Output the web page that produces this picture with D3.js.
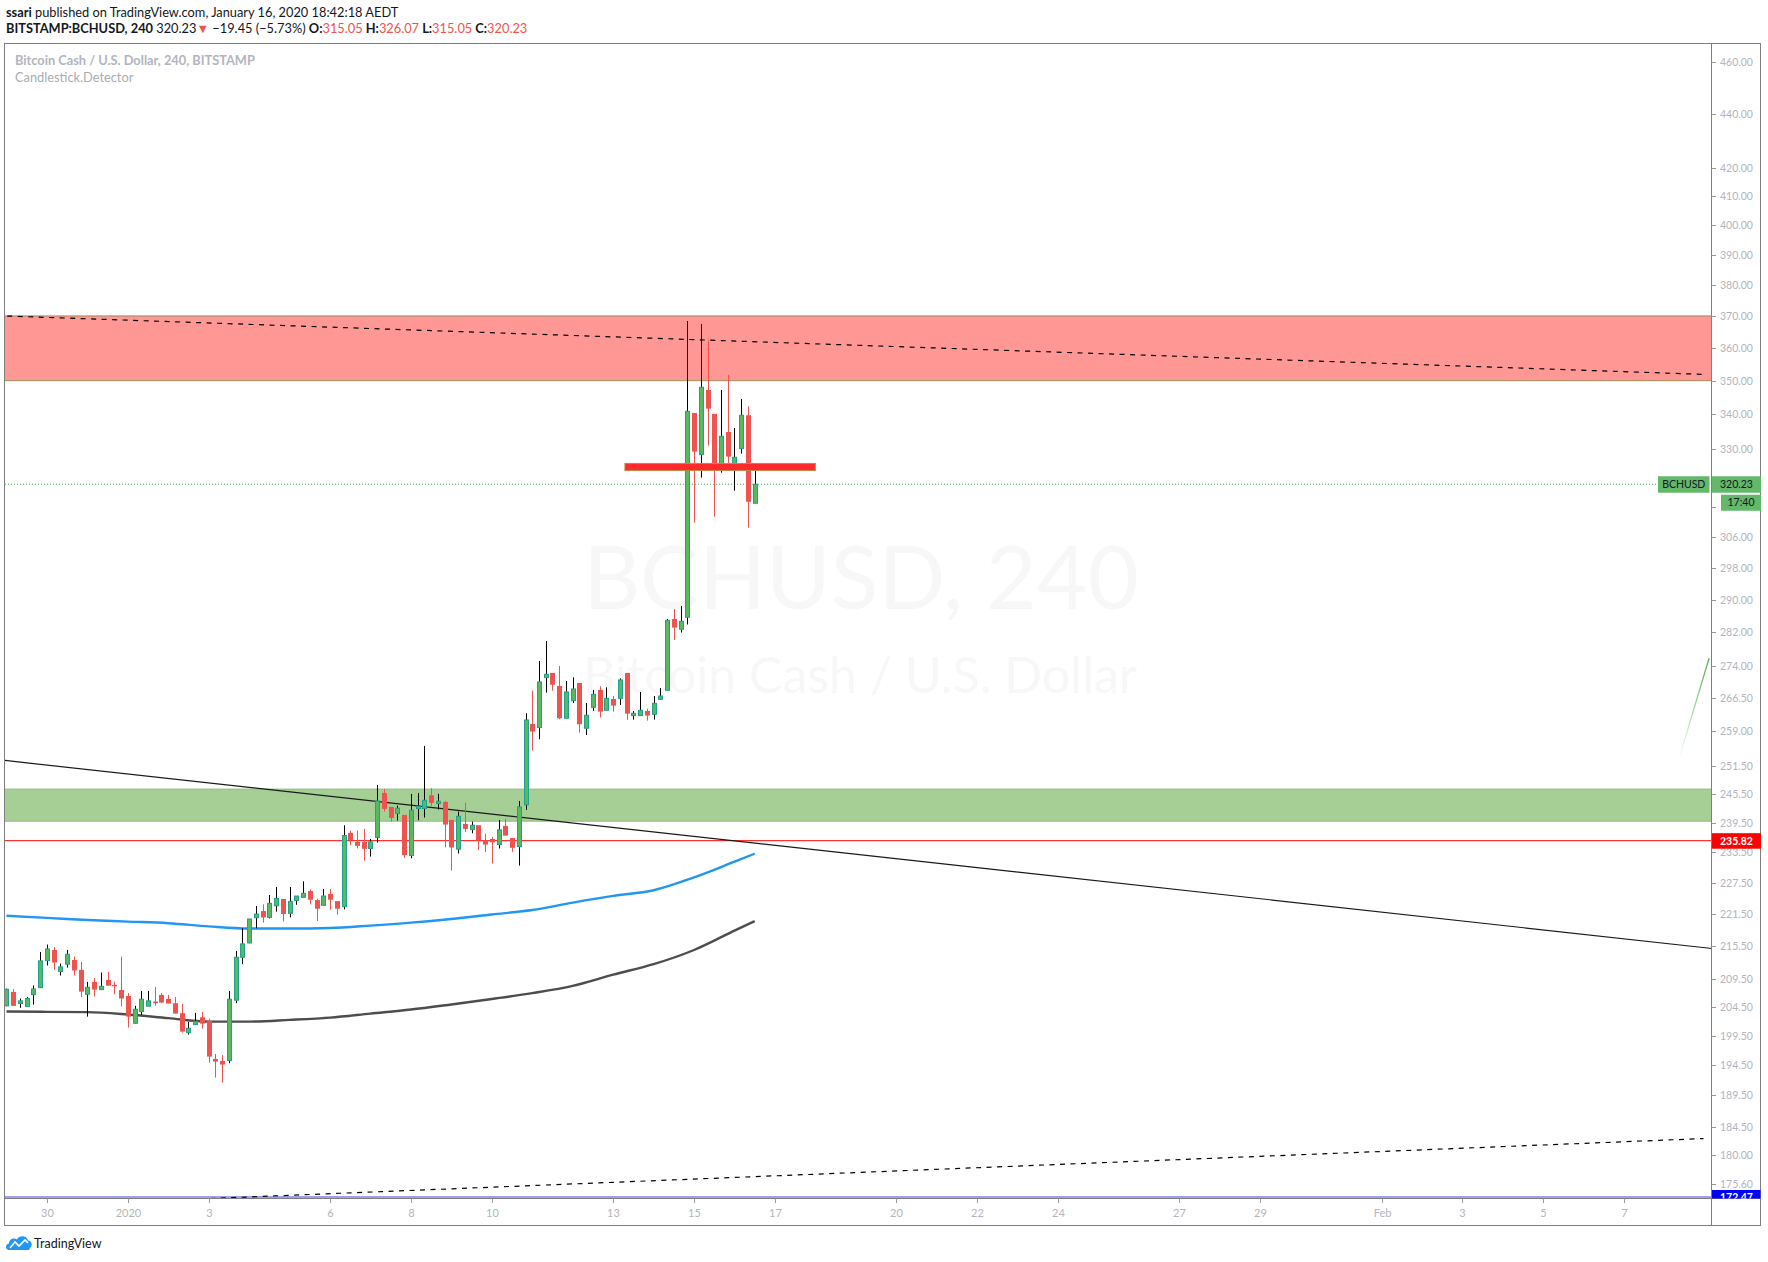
<!DOCTYPE html>
<html>
<head>
  <meta charset="utf-8" />
  <title>BCHUSD, 240</title>
  <script type="text/javascript" src="https://cdn.jsdelivr.net/npm/d3@7/dist/d3.min.js"></script>
  <style>
    body{ margin:0; background:#fff; }
    svg{ display:block; }
    text{ font-family: Lato, "Open Sans", sans-serif; }
  </style>
</head>
<body>
  <script type="text/javascript">
    // - - - - - DATA - - - - - //
    // 4h bars, first bar Dec 29 2019 00:00, one every 4 hours
    var firstBar = "2019-12-29T00:00Z";
    var barHours = 4;
    var open = [204.65,207.11,205.06,204.53,206.64,207.87,212.76,214.71,210.77,212.1,212.88,211.08,206.70,208.9,207.52,209.25,208.35,207.46,206.4,201.61,
      203.65,204.59,205.41,206.58,205.88,205.12,203.36,200.0,201.38,202.65,202.07,195.54,195.2,195.26,205.65,213.37,216.0,220.74,222.0,220.8,
      223.02,224.3,221.57,224.04,224.62,225.86,224.1,223.09,225.27,223.91,222.83,237.41,235.58,235.58,234.25,236.45,245.7,242.76,241.38,241.1,
      232.83,242.42,242.42,245.2,243.45,243.8,240.06,234.11,239.24,238.08,238.97,235.85,236.18,235.04,238.83,236.38,234.65,243.18,260.68,259.87,
      271.25,272.34,269.32,261.95,265.94,270.01,259.72,264.43,268.39,263.75,266.32,266.47,272.34,262.55,262.55,263.6,262.85,266.24,268.32,285.26,
      282.75,285.68,340.44,328.48,347.22,340.15,324.36,334.93,325.57,330.17,339.76,315.05];
    var high = [207.7,207.6,205.94,206.23,208.29,214.34,215.7,215.26,212.22,214.71,213.49,212.52,208.9,209.6,210.6,210.72,208.96,213.49,206.93,204.65,
      207.29,207.29,207.99,206.93,206.58,206.23,205.0,201.84,203.42,203.6,202.41,196.37,196.2,207.29,214.53,218.75,220.5,222.96,223.28,225.08,
      226.64,224.3,226.64,224.88,227.75,226.18,224.36,226.25,226.25,223.91,238.97,237.89,237.89,238.23,236.18,247.39,246.54,242.76,243.04,241.1,
      245.49,245.7,255.81,246.68,245.49,244.01,240.06,241.79,243.66,239.72,238.97,237.2,236.59,240.06,240.27,236.38,244.01,263.08,268.24,275.16,
      279.92,272.34,273.98,270.47,271.33,270.01,265.41,268.39,269.24,269.01,267.0,271.09,272.34,263.6,267.93,264.13,267.0,268.85,285.26,287.72,
      288.46,368.4,340.44,367.47,362.25,340.15,347.22,351.73,336.08,344.56,342.38,326.07];
    var low = [204.6,204.6,204.30,204.5,204.88,207.87,211.86,211.08,210.06,211.49,210.06,206.23,202.77,206.29,207.5,208.2,206.7,204.53,200.87,201.6,
      203.06,204.59,204.71,205.12,205.06,203.3,200.0,199.67,201.38,200.7,194.93,192.43,191.6,194.82,205.12,212.1,215.95,218.74,219.8,220.6,
      221.88,220.0,220.8,223.2,224.6,223.28,220.11,223.09,222.26,221.31,222.32,234.91,234.25,231.83,232.63,235.44,241.79,239.72,239.92,232.36,
      232.29,239.99,240.55,242.97,242.21,234.45,229.85,233.24,237.54,237.34,233.97,233.57,231.24,234.25,236.86,233.57,230.84,242.14,254.79,257.27,
      267.78,268.24,261.8,261.95,265.41,258.75,258.23,263.6,262.1,263.75,263.45,264.96,261.64,261.64,262.55,261.42,261.64,266.24,268.32,280.16,
      281.94,283.9,309.86,322.05,331.03,311.45,323.43,326.04,318.47,328.76,308.52,315.05];
    var close = [207.58,204.65,205.53,205.94,207.64,212.70,214.9,212.4,211.61,213.91,210.96,207.17,207.93,207.52,208.11,208.23,208.11,205.94,202.77,204.06,
      205.82,205.53,205.12,205.24,205.06,203.3,200.18,200.75,201.95,201.55,195.93,195.09,194.6,205.82,213.37,215.83,220.49,221.43,220.8,223.47,
      224.43,221.44,223.85,224.88,225.4,224.17,222.45,224.88,224.17,222.45,236.86,235.98,234.78,234.18,235.58,244.01,242.35,240.48,242.49,232.9,
      242.07,242.9,244.15,243.59,243.94,239.11,234.45,240.81,238.22,238.97,235.91,235.04,235.51,238.02,236.86,234.38,242.76,261.57,258.98,270.24,
      272.03,269.62,261.95,267.93,268.62,260.61,262.63,267.39,263.45,266.47,264.8,270.7,263.0,263.07,263.75,262.55,265.33,267.0,284.93,283.15,
      284.69,340.92,329.32,348.02,341.7,326.04,333.69,327.92,327.73,339.76,315.45,320.23];

    // moving averages, read once per day
    var maDates = ["2019-12-29T00:00Z","2019-12-30T00:00Z","2019-12-31T00:00Z","2020-01-01T00:00Z","2020-01-02T00:00Z",
      "2020-01-03T00:00Z","2020-01-04T00:00Z","2020-01-05T00:00Z","2020-01-06T00:00Z","2020-01-07T00:00Z",
      "2020-01-08T00:00Z","2020-01-09T00:00Z","2020-01-10T00:00Z","2020-01-11T00:00Z","2020-01-12T00:00Z",
      "2020-01-13T00:00Z","2020-01-14T00:00Z","2020-01-15T00:00Z","2020-01-16T00:00Z","2020-01-16T12:00Z"];
    var maFast = [221.1,220.7,220.3,220.0,219.7,219.1,218.7,218.7,218.8,219.25,219.8,220.5,221.35,222.2,223.6,224.9,226.0,228.5,231.6,233.2];
    var maSlow = [203.66,203.6,203.55,203.13,202.5,201.9,201.9,202.2,202.6,203.3,204.0,204.9,205.86,206.9,208.2,210.2,212.1,214.7,218.3,220.1];

    // drawings: [time, price] anchors
    var resistZone = [350, 370];
    var supportZone = [239.8, 246.5];
    var redLevel = 235.82;
    var blueLevel = 172.47;
    var lastPrice = 320.23;
    var trendLine = [["2019-12-28T12:00Z", 253.08], ["2020-02-09T12:00Z", 214.71]];
    var upperDash = [["2019-12-28T12:00Z", 370.2], ["2020-02-08T23:00Z", 351.9]];
    var lowerDash = [["2020-01-02T00:00Z", 173.21], ["2020-02-08T23:00Z", 182.62]];
    var redBar = [["2020-01-13T07:00Z", 326.0], ["2020-01-18T00:00Z", 324.0]];
    var greenStroke = [["2020-02-08T08:30Z", 253.1], ["2020-02-09T02:20Z", 275.8]];

    // axes (320 and 314 sit under the price tags, so only their ticks show)
    var yTicks = [460,440,420,410,400,390,380,370,360,350,340,330,320,314,306,298,290,282,274,266.5,259,251.5,
      245.5,239.5,233.5,227.5,221.5,215.5,209.5,204.5,199.5,194.5,189.5,184.5,180,175.6];
    var yHidden = [320, 314];
    var xTickDates = ["2019-12-30","2020-01-01","2020-01-03","2020-01-06","2020-01-08","2020-01-10","2020-01-13",
      "2020-01-15","2020-01-17","2020-01-20","2020-01-22","2020-01-24","2020-01-27","2020-01-29","2020-02-01",
      "2020-02-03","2020-02-05","2020-02-07"];
    var xTickLabels = ["30","2020","3","6","8","10","13","15","17","20","22","24","27","29","Feb","3","5","7"];

    // - - - - - CANVAS - - - - - //
    var w = 1768, h = 1262;
    var plotL = 5, plotR = 1711.5, plotT = 43.5, plotB = 1198.5;
    var frameR = 1760.5, frameB = 1225.5;
    var up = "#58b95f", upLine = "#22a08f", down = "#ef5350";

    var svg = d3.select("body").append("svg")
      .attr("width", w).attr("height", h);

    var x = d3.scaleUtc()
      .domain([new Date("2019-12-28T23:08Z"), new Date("2020-02-09T03:46Z")])
      .range([plotL, plotR]);
    var y = d3.scaleLog()
      .domain([173.43, 467.56])
      .range([1198.7, 43.3]);

    svg.append("clipPath").attr("id", "plot")
      .append("rect").attr("x", plotL).attr("y", plotT)
      .attr("width", plotR - plotL).attr("height", plotB - plotT);
    svg.append("clipPath").attr("id", "yaxis")
      .append("rect").attr("x", plotR).attr("y", plotT)
      .attr("width", frameR - plotR).attr("height", plotB - plotT);

    // - - - - - HEADER - - - - - //
    var h1 = svg.append("text").attr("x", 6).attr("y", 16.5)
      .attr("font-size", 12.8).attr("fill", "#131722");
    h1.append("tspan").attr("font-weight", "bold").text("ssari");
    h1.append("tspan").text(" published on TradingView.com, January 16, 2020 18:42:18 AEDT");

    var h2 = svg.append("text").attr("x", 6).attr("y", 33)
      .attr("font-size", 12.8).attr("fill", "#131722");
    h2.append("tspan").attr("font-weight", "bold").text("BITSTAMP:BCHUSD, 240");
    h2.append("tspan").text("  320.23");
    h2.append("tspan").attr("fill", down).text("▼");
    h2.append("tspan").text(" \u221219.45 (\u22125.73%) ");
    [["O:", "315.05"], ["H:", "326.07"], ["L:", "315.05"], ["C:", "320.23"]].forEach(function(p, i){
      h2.append("tspan").attr("font-weight", "bold").text((i ? " " : "") + p[0]);
      h2.append("tspan").attr("fill", down).text(p[1]);
    });

    // - - - - - WATERMARK - - - - - //
    svg.append("text").attr("x", 861).attr("y", 609).attr("text-anchor", "middle")
      .attr("font-size", 88).attr("fill", "#f7f7f7").text("BCHUSD, 240");
    svg.append("text").attr("x", 860).attr("y", 693).attr("text-anchor", "middle")
      .attr("font-size", 50).attr("fill", "#f7f7f7").text("Bitcoin Cash / U.S. Dollar");

    svg.append("text").attr("x", 15).attr("y", 65).attr("font-size", 12.8)
      .attr("font-weight", "bold").attr("fill", "#b2b5be")
      .text("Bitcoin Cash / U.S. Dollar, 240, BITSTAMP");
    svg.append("text").attr("x", 15).attr("y", 81.5).attr("font-size", 12.8)
      .attr("fill", "#a9acb4").text("Candlestick.Detector");

    // - - - - - PLOT - - - - - //
    var plot = svg.append("g").attr("clip-path", "url(#plot)");
    var pt = function(a){ return [x(new Date(a[0])), y(a[1])]; };

    // zones
    var zone = function(z, fill, edge){
      plot.append("rect").attr("x", plotL).attr("width", plotR - plotL)
        .attr("y", y(z[1])).attr("height", y(z[0]) - y(z[1])).attr("fill", fill);
      z.forEach(function(v){
        plot.append("line").attr("x1", plotL).attr("x2", plotR)
          .attr("y1", y(v)).attr("y2", y(v)).attr("stroke", edge).attr("stroke-width", 1);
      });
    };
    zone(resistZone, "#ff9895", "#a08c5a");
    zone(supportZone, "#a6cf96", "#8fbd7f");

    // horizontal levels
    plot.append("line").attr("x1", plotL).attr("x2", plotR)
      .attr("y1", y(redLevel)).attr("y2", y(redLevel)).attr("stroke", "#ff0000");
    var blueY = Math.min(y(blueLevel), plotB - 1.5);
    plot.append("line").attr("x1", plotL).attr("x2", plotR)
      .attr("y1", blueY).attr("y2", blueY).attr("stroke", "#7f7fe6").attr("stroke-width", 1.5);
    plot.append("line").attr("x1", plotL).attr("x2", 1658)
      .attr("y1", y(lastPrice)).attr("y2", y(lastPrice))
      .attr("stroke", "#4caf50").attr("stroke-dasharray", "1,2");

    // trend lines
    var seg = function(a, dash, col){
      var p0 = pt(a[0]), p1 = pt(a[1]);
      plot.append("line").attr("x1", p0[0]).attr("y1", p0[1]).attr("x2", p1[0]).attr("y2", p1[1])
        .attr("stroke", col || "#000").attr("stroke-width", 1.2)
        .attr("stroke-dasharray", dash || null);
    };
    seg(trendLine, null, "#1a1a1a");
    seg(upperDash, "5,5.5");
    seg(lowerDash, "5,5.5");

    var grad = svg.append("linearGradient").attr("id", "fade")
      .attr("gradientUnits", "userSpaceOnUse");
    var g0 = pt(greenStroke[0]), g1 = pt(greenStroke[1]);
    grad.attr("x1", g0[0]).attr("y1", g0[1]).attr("x2", g1[0]).attr("y2", g1[1]);
    grad.append("stop").attr("offset", 0).attr("stop-color", "#4caf50").attr("stop-opacity", 0);
    grad.append("stop").attr("offset", 1).attr("stop-color", "#4caf50").attr("stop-opacity", 1);
    plot.append("line").attr("x1", g0[0]).attr("y1", g0[1]).attr("x2", g1[0]).attr("y2", g1[1])
      .attr("stroke", "url(#fade)").attr("stroke-width", 1.3);

    // moving averages
    var maLine = d3.line()
      .x(function(d){ return x(new Date(d[0])); })
      .y(function(d){ return y(d[1]); })
      .curve(d3.curveMonotoneX);
    plot.append("path").datum(d3.zip(maDates, maSlow)).attr("d", maLine)
      .attr("fill", "none").attr("stroke", "#4d4d4d").attr("stroke-width", 2.4);
    plot.append("path").datum(d3.zip(maDates, maFast)).attr("d", maLine)
      .attr("fill", "none").attr("stroke", "#2196f3").attr("stroke-width", 2.4);

    // candles
    var t0 = +new Date(firstBar);
    var bars = open.map(function(o, i){
      return { t: new Date(t0 + i * barHours * 36e5), o: o, h: high[i], l: low[i], c: close[i] };
    });
    var candle = plot.append("g").selectAll("g").data(bars).enter().append("g");
    candle.append("line")
      .attr("x1", function(d){ return Math.round(x(d.t)) + 0.5; })
      .attr("x2", function(d){ return Math.round(x(d.t)) + 0.5; })
      .attr("y1", function(d){ return y(d.h); })
      .attr("y2", function(d){ return y(d.l); })
      .attr("stroke", function(d){ return d.c >= d.o ? "#000" : down; });
    candle.append("rect")
      .attr("x", function(d){ return Math.round(x(d.t)) + (d.c >= d.o ? -1.5 : -2); })
      .attr("width", function(d){ return d.c >= d.o ? 4 : 5; })
      .attr("y", function(d){ return y(Math.max(d.o, d.c)); })
      .attr("height", function(d){ return Math.max(1, Math.abs(y(d.o) - y(d.c))); })
      .attr("fill", function(d){ return d.c >= d.o ? up : down; })
      .attr("stroke", function(d){ return d.c >= d.o ? upLine : "none"; });

    // red bar drawing
    var r0 = pt(redBar[0]), r1 = pt(redBar[1]);
    plot.append("rect").attr("x", r0[0]).attr("y", r0[1])
      .attr("width", r1[0] - r0[0]).attr("height", r1[1] - r0[1])
      .attr("fill", "#ff2a2a").attr("stroke", "#b98a50").attr("stroke-width", 1);

    // - - - - - FRAME & AXES - - - - - //
    var grey = "#7f7f7f";
    svg.append("rect").attr("x", 4.5).attr("y", plotT)
      .attr("width", frameR - 4.5).attr("height", frameB - plotT)
      .attr("fill", "none").attr("stroke", grey);
    svg.append("line").attr("x1", plotR).attr("x2", plotR).attr("y1", plotT).attr("y2", frameB).attr("stroke", grey);
    svg.append("line").attr("x1", 4.5).attr("x2", frameR).attr("y1", plotB).attr("y2", plotB).attr("stroke", grey);

    var yAxis = svg.append("g");
    yTicks.forEach(function(v){
      var yy = Math.round(y(v)) + 0.5;
      yAxis.append("line").attr("x1", plotR).attr("x2", plotR + 4.5)
        .attr("y1", yy).attr("y2", yy).attr("stroke", "#9a9a9a");
      if(yHidden.indexOf(v) == -1){
        yAxis.append("text").attr("x", 1720).attr("y", yy).attr("dy", "0.35em")
          .attr("font-size", 10.5).attr("fill", "#b2b5be").text(d3.format(".2f")(v));
      }
    });

    var xAxis = svg.append("g");
    xTickDates.forEach(function(s, i){
      var xx = Math.round(x(new Date(s + "T00:00Z"))) + 0.5;
      xAxis.append("line").attr("x1", xx).attr("x2", xx)
        .attr("y1", plotB).attr("y2", plotB + 4.5).attr("stroke", "#9a9a9a");
      xAxis.append("text").attr("x", xx).attr("y", 1217).attr("text-anchor", "middle")
        .attr("font-size", 11).attr("fill", "#b2b5be").text(xTickLabels[i]);
    });

    // price labels
    var tag = function(x0, x1, y0, y1, fill, txt, col, bold, clip){
      var g = svg.append("g");
      if(clip) g.attr("clip-path", "url(#" + clip + ")");
      g.append("rect").attr("x", x0).attr("y", y0).attr("width", x1 - x0).attr("height", y1 - y0).attr("fill", fill);
      g.append("text").attr("x", (x0 + x1) / 2).attr("y", (y0 + y1) / 2).attr("dy", "0.35em")
        .attr("text-anchor", "middle").attr("font-size", 10.5).attr("fill", col)
        .attr("font-weight", bold ? "bold" : null).text(txt);
    };
    var lp = y(lastPrice);
    tag(1658, 1709.5, lp - 8, lp + 8.5, "#63b86a", "BCHUSD", "#131722");
    tag(1712, 1761, lp - 8, lp + 8.5, "#63b86a", d3.format(".2f")(lastPrice), "#131722");
    tag(1721, 1761, lp + 10.5, lp + 26.5, "#63b86a", "17:40", "#131722");
    var rl = y(redLevel);
    tag(1712, 1761, rl - 7.5, rl + 8, "#ff0000", d3.format(".2f")(redLevel), "#fff", true);
    tag(1712, 1761, plotB - 8.5, plotB + 7, "#0000ff", d3.format(".2f")(blueLevel), "#fff", true, "yaxis");

    // - - - - - LOGO - - - - - //
    var logo = svg.append("g").attr("transform", "translate(6,1235)");
    logo.append("path")
      .attr("d", "M3,15 C-1,15 -1,9 3,8.5 C3,4 8,2 11,4.5 C13,0 21,0 22,5.5 C26,5.5 27,11 24,13 L23,15 Z")
      .attr("fill", "#2196f3");
    logo.append("path").attr("d", "M4,13 L9,7 L13,11 L19,5 L22,8")
      .attr("fill", "none").attr("stroke", "#fff").attr("stroke-width", 1.6);
    svg.append("text").attr("x", 34).attr("y", 1247.5).attr("font-size", 12.5)
      .attr("fill", "#131722").text("TradingView");
  </script>
</body>
</html>
